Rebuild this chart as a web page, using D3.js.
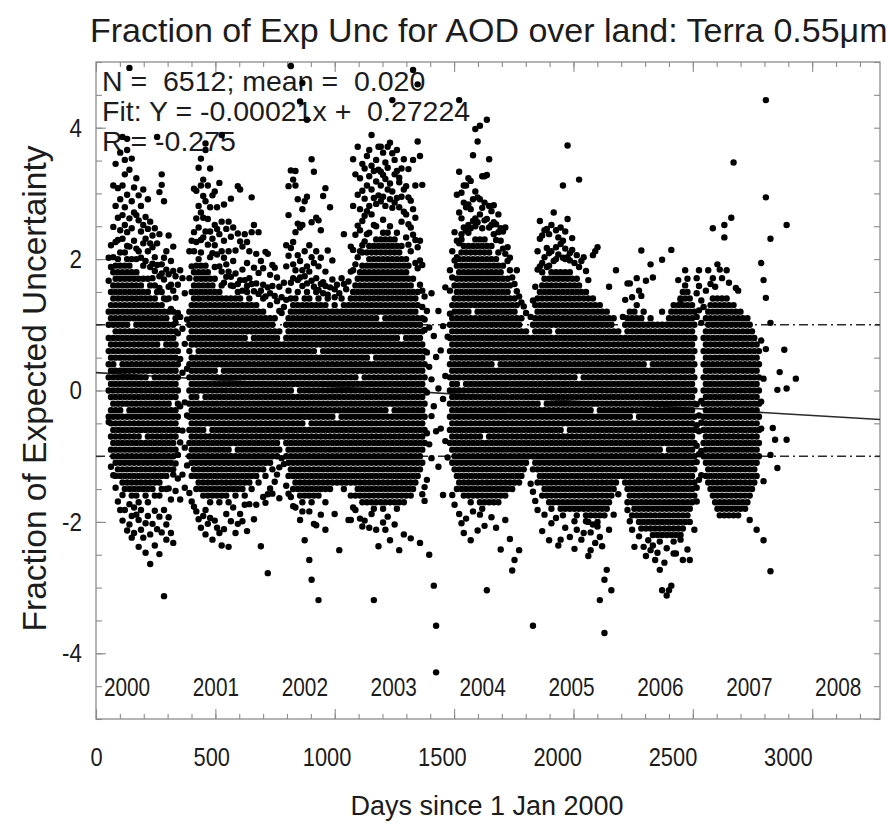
<!DOCTYPE html>
<html>
<head>
<meta charset="utf-8">
<script src="https://cdn.jsdelivr.net/npm/d3@7"></script>
<style>
  body { margin: 0; background: #fff; }
  text { font-family: "Liberation Sans", Arial, Helvetica, sans-serif; fill: #1c1c1c; white-space: pre; }
</style>
</head>
<body>
<svg id="chart" width="888" height="828"></svg>
<script>
// Observations grouped by season. Each entry is [day since 1 Jan 2000, dense, sparse]:
// "dense" holds two-digit codes (fraction = code / 10 - 5),
// "sparse" holds three-digit codes (fraction = code / 100 - 5).
const obs2000 = [
  [55,"4650525456586062","702667452"],[65,"414345474951535557616365","721384688"],
  [75,"404244464850525456586062646668","749812371703"],[85,"3739414345474951535557596163656769","781726845352"],
  [95,"38404244464850525658606264666870","729808763331"],[105,"373941434547495153555759616365676971","744862791318"],
  [115,"3638404244464850525456586062646668","812731767886341302"],[125,"353739414345495153555759616365676971","752829779851318"],
  [135,"36384042444648505254565860626466687072","866741798883287"],[145,"353739414345474951535557596163656769","991762719836327296"],
  [155,"343638404244464850525456586264666870","788747853309276"],[165,"3537394143454749515355575961636567","728809771322283"],
  [175,"34363840424446485052545658606264666870","767716823311"],[185,"333537394143454749515355575961636567","759712797303262"],
  [195,"36384042444648505254565860626466","702742781318288"],[205,"3537394145474951535557596163656769","724806752276"],
  [215,"34363840424446485052545658606264","697764731298253"],[225,"333537394143454749515355575961636567","746712791309"],
  [235,"363840424446485054565860626466","688724757281236"],[245,"353739414345474951535557596163","671718693736297"],
  [255,"3436384042444648505254565860626466","703682747317264"],[265,"373941434547495153555759616365","886724691289"],
  [275,"343638404244464850525456586062","674738656802308251"],[285,"353739414345474951535559616365","829813692678284"],
  [295,"3840424446485052545658606264","702669788318187"],[305,"3537394143454749515355575961","639712684296273"],
  [315,"3840424446485052545658606264","677658736351307"],[325,"3941434547495153555759","624697661334283"],
  [335,"384042444650525456586062","652719682372268"],[345,"4143454749515355575961","641603674389347"],
  [355,"44464850525456","618587661402366"],[365,"","421476548612334683"],[375,"","439527594671372"],
  [385,"","413482571648352"],[395,"","462533608386"]
];
const obs2001 = [
  [405,"404244464850525456586062","671712344"],[415,"373941434547495153555759616365","728689331"],
  [425,"384042444648505254586062646668","741807712323"],[435,"353739414345474951535557596163656769","804726762316"],
  [445,"363840424446485052545658606264666870","748839781304"],[455,"353739414345475153555759616365676971","853771729812291"],
  [465,"343638404244464850525456586062646668","796733821763309"],[475,"353739414345474951535557596163656769","876742866788318281"],
  [485,"3436384042464850525456586062646668","722812761297"],[495,"333537394143454749515355575961636567","838703779742306"],
  [505,"3436384042444648505254565860626466","797731709273"],[515,"3537394143454749515355575961636567","803688752721302"],
  [525,"34363840424446485052545658606264","746707779291"],[535,"33353739414345474951555759616365","816689738283"],
  [545,"3436384042444648505254565860626466","889712681757264"],[555,"353739414345474951535557596163","783702664728289"],
  [565,"34363840424446485052545658606264","692746673312"],[575,"33353739414345474951535557596163","757681712262"],
  [585,"36384042444648505254565860626466","792673734301"],[595,"3537394345474951535557596163","748659697322"],
  [605,"34363840424446485052545658606264","713678283"],[615,"35373941434547495153555759616365","811662739297"],
  [625,"363840424446485052545658606264","806727668312"],[635,"353739414345474951535557596163","719684652301"],
  [645,"343638404244464850525456586062","668738326"],[655,"373941434547495153555759616365","726694659286"],
  [665,"3638404244464850525456606264","712671327"],[675,"353739414345474951535557596163","794662741"],
  [685,"38404244464850525456586062","752687651304"],[695,"3739414345474951535557596163","708663326"],
  [705,"3638404244464850525456586062","741679647"],[715,"394143454749515355575961","697652263"],
  [725,"3840424446485052545658606264","686661338"],[735,"37394143454749515355575961","711643329"],
  [745,"4042444648505254565860","708657222342"],[755,"39414345474951535557596163","676648351"],
  [765,"384042444648505254565860","691659343"],[775,"4143454749515355575961","687644361"],
  [785,"40424446485052545658","672636372"],[795,"41434547495153555759","658621383336"],
  [805,"44464850525456","642618397"],[815,"4345474951535557","664627388"]
];
const obs2002 = [
  [825,"4042444648505254565860","689638721355"],[835,"37394143454749515355575961","767652811705343"],
  [845,"3840424446485052545658606264","835717664994338"],[855,"353739414345474951535557596163","726821692671324"],
  [865,"3638404244464852545658606264","834683741812322"],[875,"35373941434547495153555759616365","754668791706"],
  [885,"343638404244464850525456586062","697940672748303"],[895,"33353739414345474951535557596163","968683752776659316"],
  [905,"34363840424446485052545658606264","712788674272"],[915,"353739414347495153555759616365","795663912689"],
  [925,"34363840424446485052545658606264","721681242316"],[935,"33353739414345474951535557596163","852703756667212"],
  [945,"343638404244464850525456586062","833658694297"],[955,"35373941434547495153555759616365","712763671295"],
  [965,"343638404244464850525458606264","759653689181"],[975,"353739414345474951535557596163","702744662311"],
  [985,"3638404244464850525456586062","796648665"],[995,"33353739414345474951535557596163","808681659288"],
  [1005,"363840424446485052545658606264","713646"],[1015,"3537394143454749515355575961","779657"],
  [1025,"3638404244464850525456586062","698669"],[1035,"3739414345474951535557596163","654642312"],
  [1045,"36384042444850525456586062","661"],[1055,"37394143454749515355575961","648257"],
  [1065,"363840424446485052545658606264","671"],[1075,"353739414345474951535557596163","738662"],
  [1085,"3638404244464850525456586062","654"],[1095,"3739414345474951535557596163","666303"],
  [1105,"34363840424446485052545658606264","719681303"]
];
const obs2003 = [
  [1115,"373941434547495153555759616365","714852683781322"],[1125,"3436384042444648505254565860626466","829692737318"],
  [1135,"3537394143454749515355575961636567","871703798751"],[1145,"3436384042444648505456586062646668","776823712744305"],
  [1155,"3335373941434547495153555759616365676971","845721804758293"],[1165,"343638404244464850525456586062646668","792838727766302"],
  [1175,"3335373941434547495153555759616365676971","857738812773"],[1185,"343638404244464850525456586062646668707274","826866781291"],
  [1195,"33353739414345474951535759616365676971","889768842806312"],[1205,"323436384042444648505254565860626466687072","834752793181"],
  [1215,"33353739414345474951535557596163656769717375","851784818288"],[1225,"3436384042444648505254565860626466687072","836797871263"],
  [1235,"3335373941434547495153555759636567697173","812871788833"],[1245,"3234363840424446485052545658606264666870727476","862795828299"],
  [1255,"333537394143454749515355575961636567697173","822847781288"],[1265,"343638404244464850525456586062646668707274","806839871308"],
  [1275,"333537394143454951535557596163656769717375","815877791272"],[1285,"3436384042444648505254565860626466687072","861942803778"],
  [1295,"333537394143454749515355575961636567697173","829851786296"],[1305,"32343638404244464850525456586062646668707274","834793866"],
  [1315,"3335373941434547495153555759616365676971","817824779257"],[1325,"34363840424446485052545660626466687072","795838757"],
  [1335,"33353739414345474951535557596163656769","772806852281"],[1345,"34363840424446485052545658606264666870","768811733"],
  [1355,"353739414345474951535557596163656769","794837722753"],[1365,"3436384042444648505254565860626466","748789712275"],
  [1375,"3537394143454749515355575961636567","988851737776"],[1385,"363840424446485052545658606264","729812694763"],
  [1395,"373941434547495153555759616365","966879718686"],[1405,"384042444648505254565860","857698728661268"],
  [1415,"394143454749515355575961","813652691627342"],[1425,"4244464850525456","643608592353332"],
  [1435,"","435497558364621"],[1445,"","418536596250"],[1455,"","461517397648"],
  [1465,"","476203583"],[1475,"","142071438551"]
];
const obs2004 = [
  [1485,"","503384621"],[1495,"","442561"],[1505,"","487598341"],[1515,"","423522657"],[1525,"","398582"],
  [1535,"42444648505254565860","652683617"],[1545,"39414345474951535557596163","672712341"],
  [1555,"384042444648505254565860626466","741698326"],[1565,"353739414345474951535557596163656769","798728703"],
  [1575,"363840424446485052545658606264666870","942771833724312"],[1585,"35373941434547495355575961636567697173","801762738298"],
  [1595,"3436384042444648505254565860626466687072","786748812283"],[1605,"35373941434547495153555759616365676971","812779743305"],
  [1615,"343638404244464850525456586062646668707274","823783752"],[1625,"3335373941434547495153555759616365676971","819776747272"],
  [1635,"34363840424446485052545658606466687072","858791758316"],[1645,"353739414345474951535557596163656769717375","898803762"],
  [1655,"3436384042444648505254565860626466687072","879794756287"],[1665,"333537394143454749515355575961636567697173","903791768311"],
  [1675,"323436384042444648505254565860626466687072","778747826"],[1685,"3335373941454749515355575961636567697173","826786759294"],
  [1695,"3436384042444648505254565860626466687072","912828761196"],[1705,"3335373941434547495153555759616365676971","852781748"],
  [1715,"3436384042444648505254565860626466687072","773752307"],[1725,"33353739414345474951535557596163656769","782756738"],
  [1735,"343638404244464850525658606264666870","753729291"],[1745,"3335373941434547495153555759616365676971","768741"],
  [1755,"343638404244464850525456586062646668","747728258"],[1765,"353739414345474951535557596163656769","742716"],
  [1775,"3436384042444648505254565860626466","748708303"],[1785,"3537394143454749515355575961636567","718697"],
  [1795,"36384042444648505254565860626466","702683274"],[1805,"353739414345474951535557596163","672226"],
  [1815,"363840424446485052545658606264","662242"],[1825,"3739414345474951535557596163","683651"],
  [1835,"36384042444648505254565860","643257"],[1845,"37394143454749515355575961","634"],
  [1855,"3840424446485052545658","628"],[1865,"3941434547495153555759","618"],[1875,"40424446485052545658",""]
];
const obs2005 = [
  [1885,"414345474951535557","612358"],[1895,"384042444648505254565860","142637346"],
  [1905,"39414345474951535557596163","658332"],[1915,"363840424446485052545658606264","684712318"],
  [1925,"373941434547495153555759616365","689731758"],[1935,"3436384042444650525456586062646668","694736286"],
  [1945,"3537394143454749515355575961636567","744703311"],[1955,"3436384042444648505254565860626466","746688717"],
  [1965,"33353739414345474951535557596163656769","738709272"],[1975,"32343638404244464850525456586062646668","712752298"],
  [1985,"3335373941434547495153555761636567","771697"],[1995,"34363840424446485052545658606264666870","744718306"],
  [2005,"333537394143454749515355575961636567","733707264"],[2015,"32343638404244464850525456586062646668","748723273"],
  [2025,"31333537394143454749515355575961636567","812728702"],[2035,"32343638404246485052545658606264666870","742716291"],
  [2045,"333537394143454749515355575961636567","873761703"],[2055,"32343638404244464850525456586062646668","709698277"],
  [2065,"333537394143454749515355575961636567","732714"],[2075,"323436384042444648505254565860626466","694259301"],
  [2085,"31333537394143454749515355575961636567","706288"],[2095,"3234363840424446485054565860626466","821688"],
  [2105,"3335373941434547495153555759616365","697273"],[2115,"3234363840424446485052545658606264","703283"],
  [2125,"313335373941434547495153555759616365","682301"],[2135,"303234363840424446485052545658606264","668248"],
  [2145,"3133353739414345474951535557596163","284257"],[2155,"3234363840424446485052545658606264","706296"],
  [2165,"31333537394143454951535557596163","712268"],[2175,"3032343638404244464850525456586062","718293"],
  [2185,"3133353739414345474951535557596163","181277"],[2195,"32343638404244464850525456586062","263"],
  [2205,"31333537394143454749515355575961","131212"],[2215,"32343638404244464850525456586062","227"],
  [2225,"333537394143454749515355575961","658288"],[2235,"3436384042444648505254565860","196"],
  [2245,"3537394143454749515355575961","311"],[2255,"363840424446485052545658","683"],
  [2265,"373941434547495153555759","342"],[2275,"3840424446485052545658",""]
];
const obs2006 = [
  [2285,"3739414345474951535557","612"],[2295,"36384042444648505254565860","638"],
  [2305,"333537394143454749515355575961","663318"],[2315,"343638404244464850525456586062","663301"],
  [2325,"31333537394143454749515355575961","642288"],[2335,"323436384042444850525456586062","262"],
  [2345,"3133353739414345474951535557596163","671"],[2355,"30323436384042444648505254565860","652278"],
  [2365,"2931333537394143454749515355575961","713644"],[2375,"3032343638404244464850525456586062","262"],
  [2385,"29313335373941434547495153555759","248667"],[2395,"303234363840424446485052565860","272"],
  [2405,"2931333537394143454749515355575961","692257"],[2415,"2830323436384042444648505254565860","672264"],
  [2425,"29313335373941434547495153555759","242"],[2435,"2830323436384042444648505254565860","253"],
  [2445,"2729313335373941434547495153555759","227"],[2455,"283032343638404244464850525456586062","699196"],
  [2465,"293133353739434547495153555759","238"],[2475,"262830323436384042444648505254565860","188"],
  [2485,"2931333537394143454749515355575961","196"],[2495,"283032343638404244464850525456586062","714203"],
  [2505,"27293133353739414345474951535557596163","252"],[2515,"283032343638404244464850525456586062","252"],
  [2525,"293133353739414345474951535557596163","668"],[2535,"28303234363840424446485052545658606264","638273"],
  [2545,"29313335373941434547495153555759616365","242"],[2555,"30323436384042444648505254565860626466","683"],
  [2565,"31333537394143454749515355575961636567","258"],[2575,"303234363840424446485052545658606264","242"],
  [2585,"33353739414345474951535557596163",""],[2595,"343638404244464850525456586062","288"],
  [2605,"","352391416447479612648671331"],[2615,"","364403438462622659683"],[2625,"","371408451484603637"]
];
const obs2007 = [
  [2635,"40424446485052545658","627"],[2645,"37394143454749515355575961","652"],
  [2655,"3638404244464850525456586062","683"],[2665,"353739414345474951535557596163","662"],
  [2675,"34363840424446485052545658606264","747671"],[2685,"33353739414345474951535557596163","658"],
  [2695,"3234363840424446485052545658606264","692"],[2705,"3133353739414345474951535557596163","684"],
  [2715,"3234363840424446485052545658606264","671"],[2725,"3133353739414345474951535557596163","752733"],
  [2735,"3234363840424446485052545658606264","683"],[2745,"3133353739414345474951535557596163","664"],
  [2755,"32343638404244464850525456586062","763"],[2765,"3133353739414345474951535557596163","847"],
  [2775,"32343638404244464850525456586062","656"],[2785,"31333537394143454749515355575961","652"],
  [2795,"32343638404244464850525456586062",""],[2805,"333537394143454749515355575961",""],
  [2815,"323436384042444648505254565860",""],[2825,"333537394143454749515355575961",""],
  [2835,"3436384042444648505254565860","303"],[2845,"35373941434547495153555759",""],
  [2855,"363840424446485052545658",""],[2865,"3739414345474951535557","288"],
  [2875,"404244464850525456",""],[2885,"","576442483694"],[2895,"","668518362272"],
  [2905,"","641794942563"],[2925,"","603731402225"],[2935,"","443"],[2945,"","425"],
  [2955,"","501382"],[2965,"","528"],[2985,"","562"],[2995,"","752503425"],[3035,"","518"]
];

// Axis ticks and annotation text
const dayTicks = [0, 500, 1000, 1500, 2000, 2500, 3000];
const fracTicks = [-4, -2, 0, 2, 4];
const yearLabels = ["2000", "2001", "2002", "2003", "2004", "2005", "2006", "2007", "2008"];
const envelope = [-1, 1];
const fitSlope = -0.00021, fitIntercept = 0.27224;
const statLines = ["N =  6512; mean =  0.020", "Fit: Y = -0.00021x +  0.27224", "R = -0.275"];

const seasons = [obs2000, obs2001, obs2002, obs2003, obs2004, obs2005, obs2006, obs2007];
const points = seasons.flat().flatMap(([day, dense, sparse]) => [
  ...(dense.match(/\d\d/g) || []).map(c => ({ day, frac: +c / 10 - 5 })),
  ...(sparse.match(/\d{3}/g) || []).map(c => ({ day, frac: +c / 100 - 5 }))
]);

const svg = d3.select("#chart");
const x = d3.scaleLinear().domain([0, 3400]).range([96, 880]);
const y = d3.scaleLinear().domain([-5, 5]).range([719, 62]);
const tickX = d3.scaleLinear().domain([0, 3284]).range([96, 880]);
const yearX = d3.scaleLinear().domain([1999.651, 2008.47]).range([96, 880]);

const [x0, x1] = x.range();
const [yb, yt] = y.range();

// Squeeze a label horizontally, like the narrow plotting font
function condense(sel, k) {
  sel.each(function () {
    const w = this.getComputedTextLength();
    d3.select(this).attr("textLength", w * k).attr("lengthAdjust", "spacingAndGlyphs");
  });
}

// Plot frame
svg.append("rect")
  .attr("x", x0).attr("y", yt).attr("width", x1 - x0).attr("height", yb - yt)
  .attr("fill", "none").attr("stroke", "#8c8c8c").attr("stroke-width", 1.3);

// Inward tick marks on all four sides
function ticks(axis, tx, ty) {
  const g = svg.append("g").attr("transform", `translate(${tx},${ty})`).call(axis);
  g.select(".domain").remove();
  g.selectAll("line").attr("stroke", "#8c8c8c").attr("stroke-width", 1.1);
  g.selectAll("text").remove();
}
const minorDays = tickX.ticks(32), majorDays = tickX.ticks(6);
ticks(d3.axisTop(tickX).tickValues(minorDays).tickSize(5), 0, yb);
ticks(d3.axisTop(tickX).tickValues(majorDays).tickSize(10), 0, yb);
ticks(d3.axisBottom(tickX).tickValues(minorDays).tickSize(5), 0, yt);
ticks(d3.axisBottom(tickX).tickValues(majorDays).tickSize(10), 0, yt);
ticks(d3.axisRight(y).ticks(20).tickSize(6), x0, 0);
ticks(d3.axisRight(y).tickValues(fracTicks).tickSize(10), x0, 0);
ticks(d3.axisLeft(y).ticks(20).tickSize(6), x1, 0);

// Tick labels
const xLab = svg.append("g").attr("transform", `translate(0,${yb})`)
  .call(d3.axisBottom(x).tickValues(dayTicks).tickSize(0).tickPadding(29).tickFormat(d => String(d)));
xLab.select(".domain").remove();
xLab.selectAll("text").attr("font-size", 26).attr("fill", "#1c1c1c").call(condense, 0.84);

const yLab = svg.append("g").attr("transform", `translate(${x0},0)`)
  .call(d3.axisLeft(y).tickValues(fracTicks).tickSize(0).tickPadding(14).tickFormat(d => String(d)));
yLab.select(".domain").remove();
yLab.selectAll("text").attr("font-size", 26).attr("fill", "#1c1c1c").call(condense, 0.86);

// Year labels along the bottom of the plot
svg.append("g").selectAll("text").data(yearLabels).join("text")
  .attr("x", d => yearX(+d)).attr("y", y(-4.9) - 16)
  .attr("text-anchor", "middle").attr("font-size", 26).text(d => d)
  .call(condense, 0.8);

// Titles
svg.append("text").attr("x", 90).attr("y", 42).attr("font-size", 34)
  .text("Fraction of Exp Unc for AOD over land: Terra 0.55\u03bcm");
svg.append("text").attr("x", (x0 + x1) / 2 - 1).attr("y", 815)
  .attr("text-anchor", "middle").attr("font-size", 27).text("Days since 1 Jan 2000");
svg.append("text").attr("transform", `translate(46,${y(0) - 2}) rotate(-90)`)
  .attr("text-anchor", "middle").attr("font-size", 33.5).text("Fraction of Expected Uncertainty");

// Expected-uncertainty envelope (dash-dot) and linear fit
const domainDays = x.domain();
svg.append("g").selectAll("line").data(envelope).join("line")
  .attr("x1", x(domainDays[0])).attr("x2", x(domainDays[1]))
  .attr("y1", d => y(d)).attr("y2", d => y(d))
  .attr("stroke", "#2a2a2a").attr("stroke-width", 1.6).attr("stroke-dasharray", "9,4,2,4");
svg.append("path")
  .datum(domainDays)
  .attr("d", d3.line().x(d => x(d)).y(d => y(fitSlope * d + fitIntercept)))
  .attr("stroke", "#2a2a2a").attr("stroke-width", 1.6).attr("fill", "none");

// Statistics
svg.append("g").selectAll("text").data(statLines).join("text")
  .attr("x", x0 + 6).attr("y", (d, i) => yt + 29 + i * 30)
  .attr("font-size", 28.5).text(d => d);

// Observations
svg.append("g").selectAll("circle").data(points).join("circle")
  .attr("cx", d => x(d.day)).attr("cy", d => y(d.frac)).attr("r", 3.2)
  .attr("fill", "#000");
</script>
</body>
</html>
